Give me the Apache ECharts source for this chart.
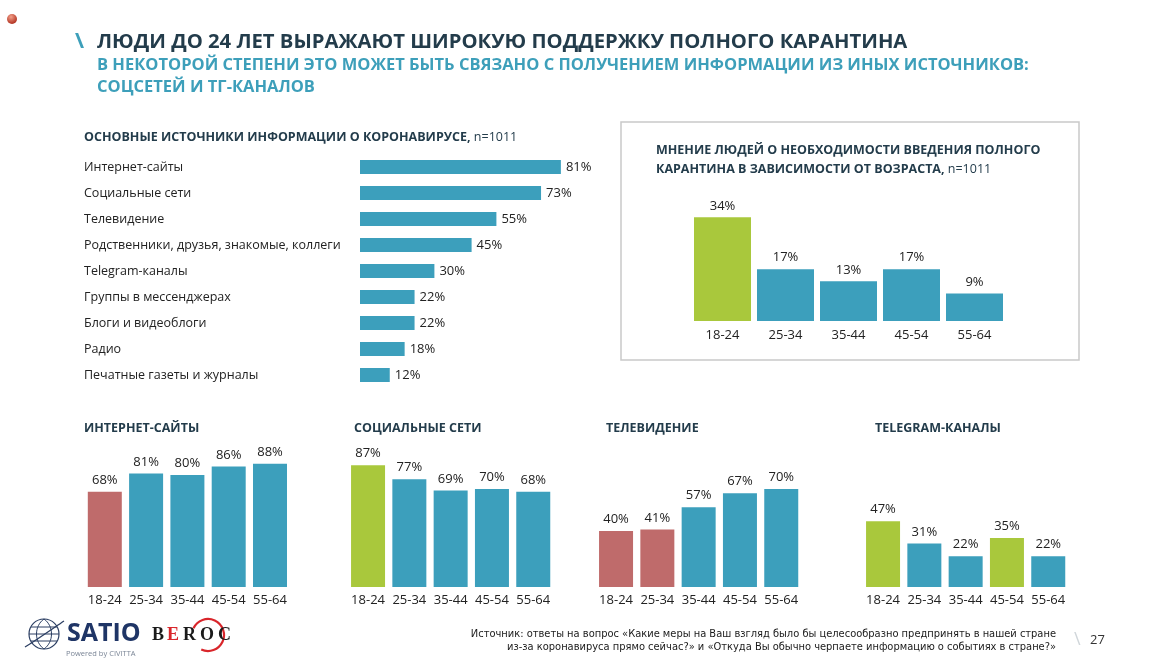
<!DOCTYPE html>
<html>
<head>
<meta charset="utf-8">
<script src="https://cdn.jsdelivr.net/npm/echarts@6/dist/echarts.min.js"></script>
<style>
html,body{margin:0;padding:0;background:#fff;}
#chart{width:1160px;height:662px;}
</style>
</head>
<body>
<div id="chart"></div>
<script>
// ---- DATA ----
const sourceCats = ['Интернет-сайты','Социальные сети','Телевидение','Родственники, друзья, знакомые, коллеги','Telegram-каналы','Группы в мессенджерах','Блоги и видеоблоги','Радио','Печатные газеты и журналы'];
const sourceVals = [81, 73, 55, 45, 30, 22, 22, 18, 12];
const ageCats = ['18-24','25-34','35-44','45-54','55-64'];
const quarantineVals = [34, 17, 13, 17, 9];
const internetVals = [68, 81, 80, 86, 88];
const socialVals = [87, 77, 69, 70, 68];
const tvVals = [40, 41, 57, 67, 70];
const telegramVals = [47, 31, 22, 35, 22];

// ---- STYLE ----
const FONT = "'Open Sans', 'Noto Sans', sans-serif";
const TEAL = '#3c9fbc';
const GREEN = '#a9c83c';
const RED = '#bf6b6b';
const DARK = '#233c4b';
const SUB = '#3d9fba';
const TXT = '#222222';

const chart = echarts.init(document.getElementById('chart'), null, {renderer: 'canvas'});

function colored(vals, colorMap) {
  return vals.map((v, i) => ({value: v, itemStyle: {color: colorMap[i] || TEAL}}));
}

const smallLefts = [84.15, 347.4, 595.4, 862.4];
const grids = [
  {left: 360, top: 154, width: 248, height: 234},
  {left: 691, top: 199, width: 315, height: 122}
].concat(smallLefts.map(l => ({left: l, top: 447, width: 206.5, height: 140})));

const xAxes = [
  {gridIndex: 0, type: 'value', min: 0, max: 100, show: false},
  {gridIndex: 1, type: 'category', data: ageCats, axisLine: {show: false}, axisTick: {show: false},
   axisLabel: {color: TXT, fontSize: 13, fontFamily: FONT, margin: 8, interval: 0}}
];
const yAxes = [
  {gridIndex: 0, type: 'category', data: sourceCats, inverse: true, axisLine: {show: false}, axisTick: {show: false},
   axisLabel: {color: TXT, fontSize: 12.5, fontFamily: FONT, align: 'left', margin: 276, interval: 0}},
  {gridIndex: 1, type: 'value', min: 0, max: 40, show: false, splitLine: {show: false}}
];
for (let g = 2; g < 6; g++) {
  xAxes.push({gridIndex: g, type: 'category', data: ageCats, axisLine: {show: false}, axisTick: {show: false},
    axisLabel: {color: TXT, fontSize: 13, fontFamily: FONT, margin: 7, interval: 0, hideOverlap: false}});
  yAxes.push({gridIndex: g, type: 'value', min: 0, max: 100, show: false, splitLine: {show: false}});
}

const topLabel = {show: true, position: 'top', distance: 5, color: TXT, fontSize: 13, fontFamily: FONT, formatter: '{c}%'};

const series = [
  {type: 'bar', xAxisIndex: 0, yAxisIndex: 0, data: sourceVals, barWidth: 14, itemStyle: {color: TEAL},
   label: {show: true, position: 'right', distance: 5, color: TXT, fontSize: 13, fontFamily: FONT, formatter: '{c}%'}},
  {type: 'bar', xAxisIndex: 1, yAxisIndex: 1, data: colored(quarantineVals, {0: GREEN}), barWidth: 57, label: topLabel},
  {type: 'bar', xAxisIndex: 2, yAxisIndex: 2, data: colored(internetVals, {0: RED}), barWidth: 34, label: topLabel},
  {type: 'bar', xAxisIndex: 3, yAxisIndex: 3, data: colored(socialVals, {0: GREEN}), barWidth: 34, label: topLabel},
  {type: 'bar', xAxisIndex: 4, yAxisIndex: 4, data: colored(tvVals, {0: RED, 1: RED}), barWidth: 34, label: topLabel},
  {type: 'bar', xAxisIndex: 5, yAxisIndex: 5, data: colored(telegramVals, {0: GREEN, 3: GREEN}), barWidth: 34, label: topLabel}
];

function txt(x, y, text, opts) {
  return {type: 'text', x: x, y: y, style: Object.assign({text: text, fontFamily: FONT, fill: TXT, fontSize: 12, verticalAlign: 'middle'}, opts || {})};
}
function richTitle(x, y, boldPart, normalPart) {
  return {type: 'text', x: x, y: y, style: {
    text: '{b|' + boldPart + '}' + (normalPart ? '{n|' + normalPart + '}' : ''),
    verticalAlign: 'middle',
    rich: {
      b: {fontFamily: FONT, fontSize: 12.5, fontWeight: 'bold', fill: DARK, color: DARK},
      n: {fontFamily: FONT, fontSize: 12.5, fill: DARK, color: DARK}
    }
  }};
}
const NAVY = '#2c3f63';
const SERIF = "'Liberation Serif', 'DejaVu Serif', serif";
const DEG = Math.PI / 180;

const graphic = [
  // red dot
  {type: 'circle', shape: {cx: 12, cy: 19, r: 5}, style: {fill: new echarts.graphic.RadialGradient(0.4, 0.3, 0.7, [{offset: 0, color: '#f3a08a'}, {offset: 1, color: '#b0301f'}])}},
  // headline
  txt(75, 42, '\\', {fontSize: 22, fill: SUB, fontWeight: 'bold'}),
  txt(97, 42, 'ЛЮДИ ДО 24 ЛЕТ ВЫРАЖАЮТ ШИРОКУЮ ПОДДЕРЖКУ ПОЛНОГО КАРАНТИНА', {fontSize: 20.25, fontWeight: 'bold', fill: DARK}),
  txt(97, 65, 'В НЕКОТОРОЙ СТЕПЕНИ ЭТО МОЖЕТ БЫТЬ СВЯЗАНО С ПОЛУЧЕНИЕМ ИНФОРМАЦИИ ИЗ ИНЫХ ИСТОЧНИКОВ:', {fontSize: 16.5, fontWeight: 'bold', fill: SUB}),
  txt(97, 87, 'СОЦСЕТЕЙ И ТГ-КАНАЛОВ', {fontSize: 16.5, fontWeight: 'bold', fill: SUB}),
  // section titles
  richTitle(84, 137, 'ОСНОВНЫЕ ИСТОЧНИКИ ИНФОРМАЦИИ О КОРОНАВИРУСЕ, ', 'n=1011'),
  {type: 'rect', shape: {x: 621, y: 122, width: 458, height: 238}, style: {fill: 'none', stroke: '#c9c9c9', lineWidth: 1.5}},
  richTitle(656, 150, 'МНЕНИЕ ЛЮДЕЙ О НЕОБХОДИМОСТИ ВВЕДЕНИЯ ПОЛНОГО', ''),
  richTitle(656, 169, 'КАРАНТИНА В ЗАВИСИМОСТИ ОТ ВОЗРАСТА, ', 'n=1011'),
  richTitle(84, 428, 'ИНТЕРНЕТ-САЙТЫ', ''),
  richTitle(354, 428, 'СОЦИАЛЬНЫЕ СЕТИ', ''),
  richTitle(606, 428, 'ТЕЛЕВИДЕНИЕ', ''),
  richTitle(875, 428, 'TELEGRAM-КАНАЛЫ', ''),
  // SATIO logo (globe)
  {type: 'circle', shape: {cx: 44, cy: 634, r: 15}, style: {fill: 'none', stroke: NAVY, lineWidth: 1.2}},
  {type: 'bezierCurve', shape: {x1: 44, y1: 619, cpx1: 34, cpy1: 626, cpx2: 34, cpy2: 642, x2: 44, y2: 649}, style: {fill: 'none', stroke: NAVY, lineWidth: 1}},
  {type: 'bezierCurve', shape: {x1: 44, y1: 619, cpx1: 54, cpy1: 626, cpx2: 54, cpy2: 642, x2: 44, y2: 649}, style: {fill: 'none', stroke: NAVY, lineWidth: 1}},
  {type: 'line', shape: {x1: 29, y1: 634, x2: 59, y2: 634}, style: {stroke: NAVY, lineWidth: 1}},
  {type: 'line', shape: {x1: 31, y1: 627, x2: 57, y2: 627}, style: {stroke: NAVY, lineWidth: 1}},
  {type: 'line', shape: {x1: 31, y1: 641, x2: 57, y2: 641}, style: {stroke: NAVY, lineWidth: 1}},
  {type: 'bezierCurve', shape: {x1: 25, y1: 647, cpx1: 35, cpy1: 641, cpx2: 55, cpy2: 627, x2: 64, y2: 621}, style: {fill: 'none', stroke: NAVY, lineWidth: 1.3}},
  txt(67, 634, 'SATIO', {fontSize: 25, fontWeight: 'bold', fill: '#1f3566'}),
  txt(66, 654, 'Powered by CIVITTA', {fontSize: 7.5, fill: '#7a8596'}),
  // BEROC logo
  {type: 'arc', shape: {cx: 208, cy: 635, r: 16, startAngle: 205 * DEG, endAngle: 475 * DEG, clockwise: true}, style: {stroke: '#d9262b', lineWidth: 2.2, fill: 'none'}},
  txt(152, 635, 'B', {fontSize: 18, fontWeight: 'bold', fill: '#1a1a1a', fontFamily: SERIF}),
  txt(167, 635, 'E', {fontSize: 18, fontWeight: 'bold', fill: '#d9262b', fontFamily: SERIF}),
  txt(183, 635, 'R', {fontSize: 18, fontWeight: 'bold', fill: '#1a1a1a', fontFamily: SERIF}),
  txt(200, 635, 'O', {fontSize: 18, fontWeight: 'bold', fill: '#1a1a1a', fontFamily: SERIF}),
  txt(218, 635, 'C', {fontSize: 18, fontWeight: 'bold', fill: '#1a1a1a', fontFamily: SERIF}),
  // source note
  txt(1056, 634, 'Источник: ответы на вопрос «Какие меры на Ваш взгляд было бы целесообразно предпринять в нашей стране', {fontSize: 11, align: 'right', fill: '#1a1a1a', fontFamily: "'Liberation Sans Narrow', 'DejaVu Sans Condensed', sans-serif"}),
  txt(1056, 647, 'из-за коронавируса прямо сейчас?» и «Откуда Вы обычно черпаете информацию о событиях в стране?»', {fontSize: 11, align: 'right', fill: '#1a1a1a', fontFamily: "'Liberation Sans Narrow', 'DejaVu Sans Condensed', sans-serif"}),
  txt(1074, 640, '\\', {fontSize: 18, fill: '#d0d6da'}),
  txt(1090, 640, '27', {fontSize: 13, fill: '#333'})
];

chart.setOption({
  animation: false,
  backgroundColor: '#ffffff',
  grid: grids,
  xAxis: xAxes,
  yAxis: yAxes,
  series: series,
  graphic: graphic
});
</script>
</body>
</html>
